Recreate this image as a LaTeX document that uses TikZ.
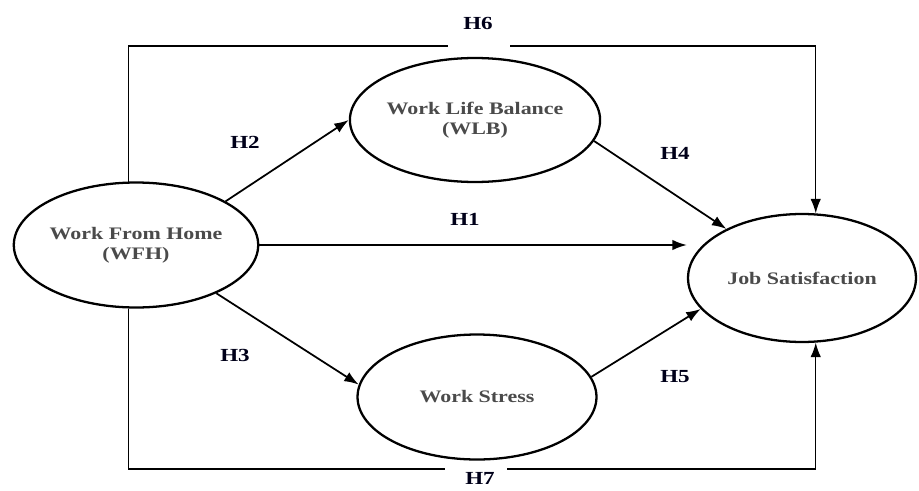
\documentclass[tikz,border=0pt]{standalone}
\usepackage{fontspec}
\setmainfont[FakeStretch=1.25]{Liberation Serif}
\usepackage{xcolor}
\usetikzlibrary{shapes.geometric,arrows.meta}
\definecolor{labelgray}{HTML}{4A4A4A}
\tikzset{
  construct/.style={ellipse,draw,line width=1.3pt,inner sep=0pt,
    font=\bfseries\fontsize{10}{11.5}\selectfont,text=labelgray,align=center},
  hyp/.style={font=\bfseries\fontsize{10.5}{12}\selectfont,text=black!90!blue},
  path/.style={line width=1pt,-{Latex[length=2.9mm,width=2.1mm]}},
  frame/.style={line width=0.7pt}
}
\begin{document}
\begin{tikzpicture}[x=0.02cm,y=-0.02cm]
\useasboundingbox (0,0) rectangle (919,490);

% constructs
\node[construct,minimum width=4.84cm,minimum height=2.5cm] (wfh) at (136,245) {Work From Home\\(WFH)};
\node[construct,minimum width=4.78cm,minimum height=2.48cm] (wlb) at (475,120) {Work Life Balance\\(WLB)};
\node[construct,minimum width=4.78cm,minimum height=2.5cm] (ws) at (477,397) {Work Stress};
\node[construct,minimum width=4.56cm,minimum height=2.56cm] (js) at (802,278) {Job Satisfaction};

% hypothesis labels
\node[hyp] (h1) at (465,219) {H1};
\node[hyp] (h2) at (245,142) {H2};
\node[hyp] (h3) at (235,355) {H3};
\node[hyp] (h4) at (675,153) {H4};
\node[hyp] (h5) at (675,377) {H5};
\node[hyp] (h6) at (478,23) {H6};
\node[hyp] (h7) at (480,478) {H7};

% free ends of the outer lines
\coordinate (h6a) at (448,46);
\coordinate (h6b) at (510,46);
\coordinate (h7a) at (445,469);
\coordinate (h7b) at (507,469);

% direct paths
\draw[path] (wfh.east) -- (wfh.east -| js.west);
\draw[path] (wfh.26) -- (wlb.west);
\draw[path] (wfh.-31) -- (ws.174);
\draw[path] (wlb.-10) -- (js.147);
\draw[path] (ws.10) -- (js.197);

% outer paths
\draw[frame] (wfh.97) |- (h6a);
\draw[path,line width=0.7pt] (h6b) -| (js.78);
\draw[frame] (wfh.263) |- (h7a);
\draw[path,line width=0.7pt] (h7b) -| (js.282);
\end{tikzpicture}
\end{document}
